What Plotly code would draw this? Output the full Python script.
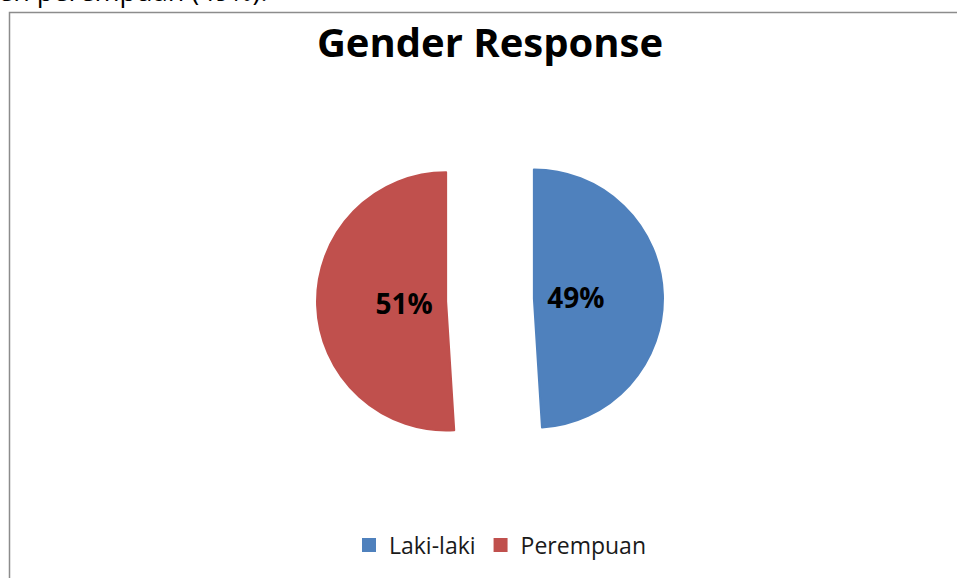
import plotly.graph_objects as go

labels = ["Laki-laki", "Perempuan"]
values = [49, 51]
colors = ["#4F81BD", "#C0504D"]
title_text = "Gender Response"
caption_text = "en perempuan (49%)."

W, H = 957, 578
cx, cy = 490, 300          # pie centre in pixels

def dom(cx_px, cy_px, half_px):
    return dict(x=[(cx_px - half_px) / W, (cx_px + half_px) / W],
                y=[1 - (cy_px + half_px) / H, 1 - (cy_px - half_px) / H])

fig = go.Figure()
# the slices
fig.add_trace(go.Pie(
    labels=labels,
    values=values,
    sort=False,
    direction="clockwise",
    rotation=0,
    pull=[0.34, 0.34],
    marker=dict(colors=colors, line=dict(width=2, color=colors)),
    textinfo="none",
    domain=dom(cx, cy, 173),
    hoverinfo="label+percent",
))
# transparent companion pie used only to place the percentage labels
fig.add_trace(go.Pie(
    labels=labels,
    values=values,
    sort=False,
    direction="clockwise",
    rotation=0,
    marker=dict(colors=["rgba(0,0,0,0)", "rgba(0,0,0,0)"], line=dict(width=0)),
    texttemplate="%{percent:.0%}",
    textposition="inside",
    insidetextorientation="horizontal",
    textfont=dict(family="Open Sans", size=28, color="black", weight="bold"),
    domain=dom(cx, cy, 172),
    showlegend=False,
    hoverinfo="skip",
))

# chart border
fig.add_shape(type="rect", xref="paper", yref="paper",
              x0=9.5 / W, x1=1.05, y0=-0.05, y1=1 - 12.5 / H,
              line=dict(color="#8c8c8c", width=1.5), fillcolor="rgba(0,0,0,0)")

fig.add_annotation(text=caption_text, xref="paper", yref="paper",
                   x=-4 / W, y=1 - 11 / H, xanchor="left", yanchor="bottom",
                   showarrow=False,
                   font=dict(family="Open Sans", size=27, color="black"))

fig.update_layout(
    width=W, height=H,
    margin=dict(l=0, r=0, t=0, b=0),
    paper_bgcolor="white",
    plot_bgcolor="white",
    title=dict(text=title_text, x=490 / W, xanchor="center",
               y=1 - 43 / H, yanchor="middle",
               font=dict(family="Open Sans", size=40, color="black", weight="bold")),
    showlegend=True,
    legend=dict(orientation="h", x=500 / W, xanchor="center",
                y=1 - 545 / H, yanchor="middle",
                font=dict(family="Open Sans", size=23, color="#1a1a1a"),
                traceorder="normal"),
)

fig.write_html("out.html")
